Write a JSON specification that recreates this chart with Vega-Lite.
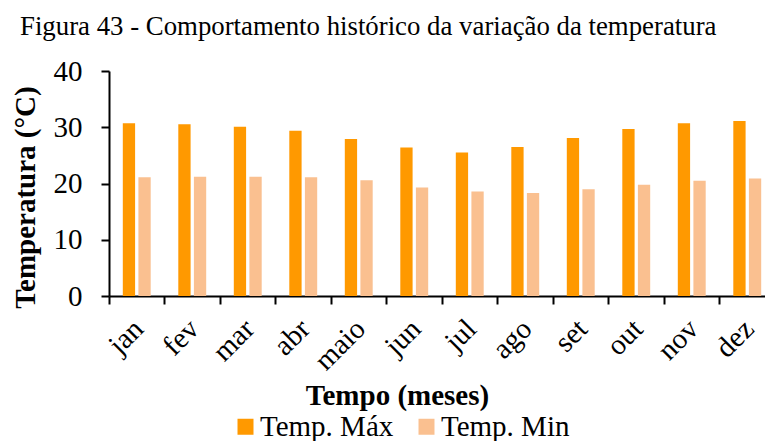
{
  "$schema": "https://vega.github.io/schema/vega-lite/v6.json",
  "autosize": "none",
  "width": 666,
  "height": 225,
  "padding": {"left": 109, "top": 71, "right": 0, "bottom": 145},
  "background": "white",
  "title": {"text": "Figura 43 - Comportamento histórico da variação da temperatura", "anchor": "start", "frame": "group", "dx": -89, "offset": -5, "baseline": "alphabetic", "font": "Liberation Serif", "fontSize": 26.8, "fontWeight": "normal", "color": "black"},
  "data": {"values": [
    {"mes": "jan", "serie": "Temp. Máx", "valor": 30.7},
    {"mes": "jan", "serie": "Temp. Min", "valor": 21.1},
    {"mes": "fev", "serie": "Temp. Máx", "valor": 30.55},
    {"mes": "fev", "serie": "Temp. Min", "valor": 21.2},
    {"mes": "mar", "serie": "Temp. Máx", "valor": 30.1},
    {"mes": "mar", "serie": "Temp. Min", "valor": 21.2},
    {"mes": "abr", "serie": "Temp. Máx", "valor": 29.4},
    {"mes": "abr", "serie": "Temp. Min", "valor": 21.1},
    {"mes": "maio", "serie": "Temp. Máx", "valor": 27.9},
    {"mes": "maio", "serie": "Temp. Min", "valor": 20.6},
    {"mes": "jun", "serie": "Temp. Máx", "valor": 26.4},
    {"mes": "jun", "serie": "Temp. Min", "valor": 19.3},
    {"mes": "jul", "serie": "Temp. Máx", "valor": 25.5},
    {"mes": "jul", "serie": "Temp. Min", "valor": 18.6},
    {"mes": "ago", "serie": "Temp. Máx", "valor": 26.5},
    {"mes": "ago", "serie": "Temp. Min", "valor": 18.3},
    {"mes": "set", "serie": "Temp. Máx", "valor": 28.1},
    {"mes": "set", "serie": "Temp. Min", "valor": 19.0},
    {"mes": "out", "serie": "Temp. Máx", "valor": 29.7},
    {"mes": "out", "serie": "Temp. Min", "valor": 19.8},
    {"mes": "nov", "serie": "Temp. Máx", "valor": 30.7},
    {"mes": "nov", "serie": "Temp. Min", "valor": 20.5},
    {"mes": "dez", "serie": "Temp. Máx", "valor": 31.1},
    {"mes": "dez", "serie": "Temp. Min", "valor": 20.9}
  ]},
  "mark": {"type": "bar"},
  "encoding": {
    "x": {"field": "mes", "type": "nominal", "sort": null,
      "scale": {"paddingInner": 0, "paddingOuter": 0},
      "axis": {"title": "Tempo (meses)", "bandPosition": 0, "labelOffset": -8, "labelAngle": -45, "labelFont": "Liberation Serif", "labelFontSize": 29, "labelColor": "black", "labelPadding": 10,
        "titleFont": "Liberation Serif", "titleFontSize": 29, "titleFontWeight": "bold", "titleColor": "black", "titleX": 288, "titleY": 108, "titleBaseline": "alphabetic", "titleAnchor": "middle", "titleAlign": "center",
        "domainColor": "black", "domainWidth": 2, "tickColor": "black", "tickWidth": 2, "tickSize": 8}},
    "xOffset": {"field": "serie", "type": "nominal", "sort": ["Temp. Máx", "Temp. Min"], "scale": {"paddingInner": 0.2115, "paddingOuter": 0.885}},
    "y": {"field": "valor", "type": "quantitative",
      "scale": {"domain": [0, 40], "nice": false},
      "axis": {"title": "Temperatura (°C)", "values": [0, 10, 20, 30, 40], "grid": false, "labelFont": "Liberation Serif", "labelFontSize": 29, "labelColor": "black", "labelPadding": 19,
        "titleFont": "Liberation Serif", "titleFontSize": 29, "titleFontWeight": "bold", "titleColor": "black", "titleX": -84, "titleY": 126, "titleBaseline": "middle", "titleAngle": 270, "titleAnchor": "middle", "titleAlign": "center",
        "domainColor": "black", "domainWidth": 2, "tickColor": "black", "tickWidth": 2, "tickSize": 8}},
    "color": {"field": "serie", "type": "nominal",
      "scale": {"domain": ["Temp. Máx", "Temp. Min"], "range": ["#FF9900", "#FAC090"]},
      "legend": {"title": null, "orient": "none", "legendX": 122, "legendY": 341, "direction": "horizontal", "symbolType": "square", "symbolSize": 256, "symbolStrokeWidth": 0, "labelFont": "Liberation Serif", "labelFontSize": 29, "labelColor": "black", "labelOffset": 0, "columnPadding": 18, "padding": 0}}
  },
  "config": {"view": {"stroke": null}}
}
